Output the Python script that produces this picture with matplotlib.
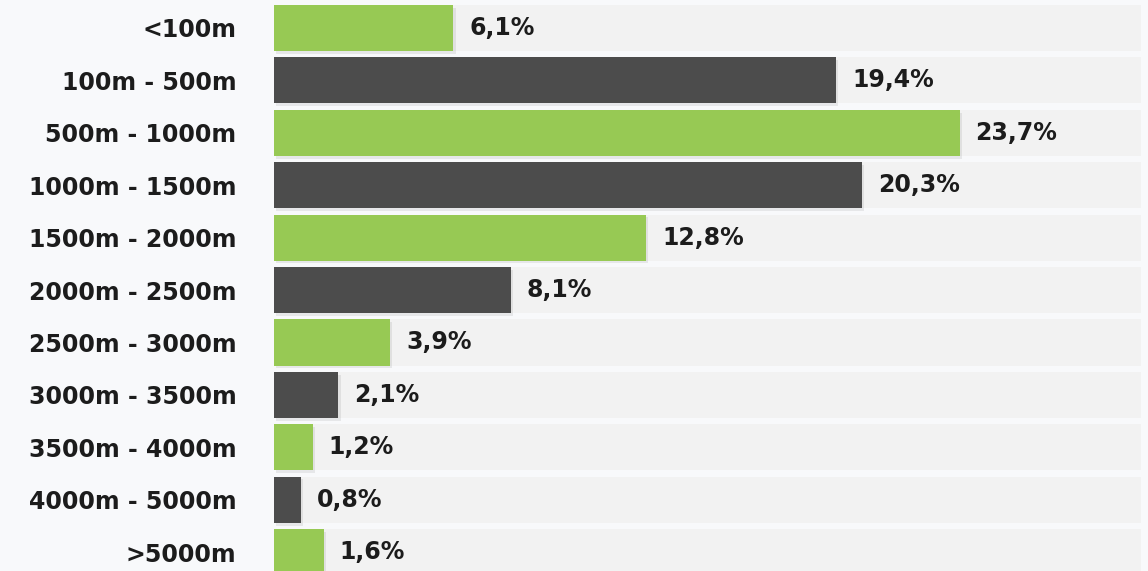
import matplotlib
matplotlib.use("Agg")
import matplotlib.pyplot as plt
import matplotlib.patheffects as pe

# Altitude bands and their share of the total
categories = ["<100m", "100m - 500m", "500m - 1000m", "1000m - 1500m", "1500m - 2000m",
              "2000m - 2500m", "2500m - 3000m", "3000m - 3500m", "3500m - 4000m",
              "4000m - 5000m", ">5000m"]
shares = [6.1, 19.4, 23.7, 20.3, 12.8, 8.1, 3.9, 2.1, 1.2, 0.8, 1.6]
value_labels = ["6,1%", "19,4%", "23,7%", "20,3%", "12,8%", "8,1%", "3,9%", "2,1%", "1,2%", "0,8%", "1,6%"]

GREEN = "#97c954"
DARK = "#4c4c4c"
TRACK = "#f2f2f2"
BG = "#f8f9fb"
TEXT = "#1c1c1c"

x_min, x_max = -0.14, 30.0

fig = plt.figure(figsize=(11.48, 5.71), dpi=100, facecolor=BG)
ax = fig.add_axes([274 / 1148, 0, (1141 - 274) / 1148, 1])
ax.set_facecolor(BG)

rows = list(range(len(categories)))
bar_h = 0.88

# grey tracks behind every bar
ax.barh(rows, x_max - x_min, left=x_min, height=bar_h, color=TRACK, zorder=1)

colors = [GREEN if i % 2 == 0 else DARK for i in rows]
bars = ax.barh(rows, [v - x_min for v in shares], left=x_min, height=bar_h,
               color=colors, zorder=2)
for b in bars:
    b.set_path_effects([pe.SimplePatchShadow(offset=(1.5, -2), shadow_rgbFace="#000000", alpha=0.07),
                        pe.Normal()])

for i, (v, lab) in enumerate(zip(shares, value_labels)):
    ax.text(v + 0.55, i, lab, va="center", ha="left", fontsize=17, fontweight="bold",
            color=TEXT, zorder=3)

ax.set_yticks(rows)
ax.set_yticklabels(categories, fontsize=17, fontweight="bold", color=TEXT)
ax.tick_params(axis="y", length=0, pad=27)
ax.set_xticks([])
ax.set_xlim(x_min, x_max)
ax.set_ylim(10.36, -0.534)
for s in ax.spines.values():
    s.set_visible(False)

fig.savefig("out.png", dpi=100, facecolor=BG)
